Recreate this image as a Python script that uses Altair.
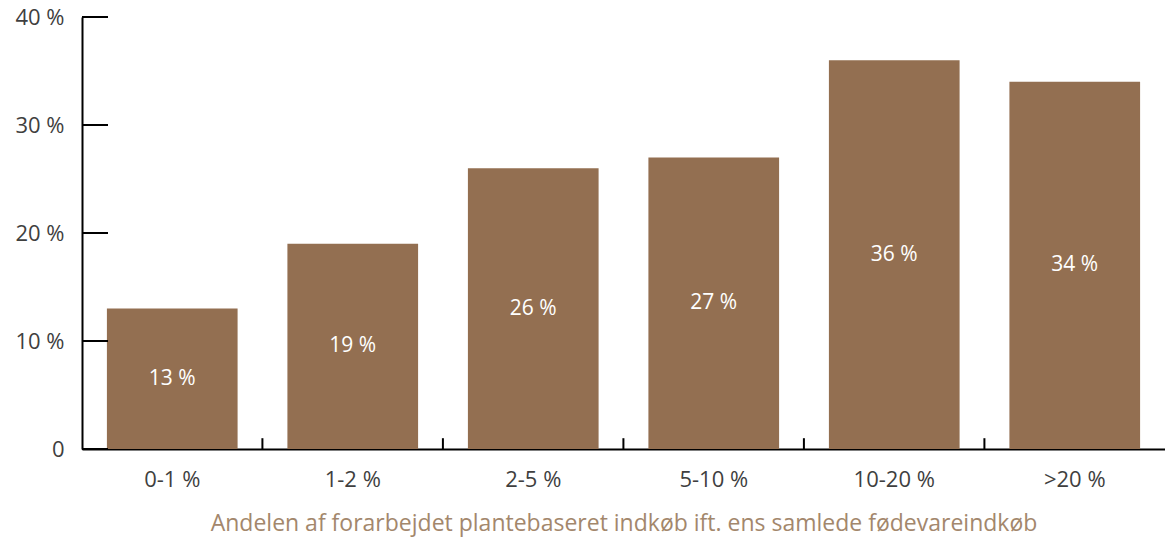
import altair as alt
import pandas as pd

# Share of processed plant-based purchases vs. share of respondents
categories = ["0-1 %", "1-2 %", "2-5 %", "5-10 %", "10-20 %", ">20 %"]
values = [13, 19, 26, 27, 36, 34]
y_ticks = [0, 10, 20, 30, 40]

BAR = "#936f51"
TEXT = "#3f3f3f"
TITLE = "#a3876c"
FONT = "Open Sans"
PAD_INNER = 0.276

df = pd.DataFrame({"cat": categories, "val": values})
df["label"] = df["val"].astype(str) + " %"
df["mid"] = df["val"] / 2

x_scale = alt.Scale(domain=categories, paddingInner=PAD_INNER, paddingOuter=PAD_INNER / 2)
y_scale = alt.Scale(domain=[0, 40], nice=False)

x_axis = alt.Axis(
    title="Andelen af forarbejdet plantebaseret indkøb ift. ens samlede fødevareindkøb",
    titleColor=TITLE,
    titleFont=FONT,
    titleFontSize=23,
    titleFontWeight="normal",
    titlePadding=22,
    labelAngle=0,
    labelColor=TEXT,
    labelFont=FONT,
    labelFontSize=22,
    labelPadding=20,
    ticks=False,
    domainColor="black",
    domainWidth=2,
)
y_axis = alt.Axis(
    title=None,
    values=y_ticks,
    labelExpr="datum.value == 0 ? '0' : datum.value + ' %'",
    labelColor=TEXT,
    labelFont=FONT,
    labelFontSize=22,
    labelPadding=18,
    ticks=False,
    grid=False,
    domainColor="black",
    domainWidth=2,
)

base = alt.Chart(df)

bars = base.mark_bar(color=BAR).encode(
    x=alt.X("cat:N", scale=x_scale, sort=categories, axis=x_axis),
    y=alt.Y("val:Q", scale=y_scale, axis=y_axis),
)

labels = base.mark_text(color="white", font=FONT, fontSize=21).encode(
    x=alt.X("cat:N", scale=x_scale, sort=categories, axis=x_axis),
    y=alt.Y("mid:Q", scale=y_scale, axis=y_axis),
    text="label:N",
)

# inward-pointing ticks on the value axis
ytick_df = pd.DataFrame({"v": y_ticks})
yticks = alt.Chart(ytick_df).mark_rule(color="black", strokeWidth=2).encode(
    y=alt.Y("v:Q", scale=y_scale, axis=y_axis),
    x=alt.value(0),
    x2=alt.value(26),
)

# upward ticks at the boundaries between categories
xtick_df = pd.DataFrame({"cat": categories[1:]})
xticks = alt.Chart(xtick_df).mark_rule(color="black", strokeWidth=2, xOffset=-25).encode(
    x=alt.X("cat:N", scale=x_scale, sort=categories, bandPosition=0, axis=x_axis),
    y=alt.datum(0, scale=y_scale),
    y2=alt.datum(1.0),
)

chart = (
    alt.layer(bars, labels, yticks, xticks)
    .properties(
        width=1083,
        height=432,
        background="white",
        autosize=alt.AutoSizeParams(type="none"),
        padding={"left": 82, "top": 17, "right": 0, "bottom": 88},
    )
    .configure_view(strokeWidth=0, stroke="transparent")
)

chart.save("out.html", embed_options={"renderer": "svg", "actions": False})
